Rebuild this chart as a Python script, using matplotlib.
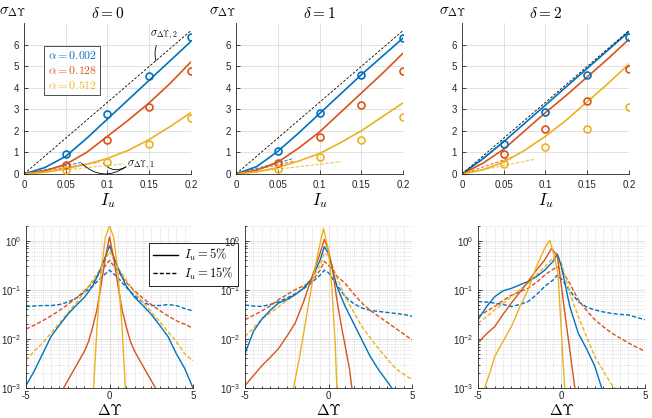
import numpy as np
import matplotlib
matplotlib.use("Agg")
import matplotlib.pyplot as plt
from matplotlib.font_manager import FontProperties
from matplotlib.lines import Line2D
from matplotlib.ticker import LogLocator, MultipleLocator, NullFormatter

plt.rcParams['font.family'] = ['Liberation Sans', 'DejaVu Sans']

# ---------------- data: top row (std of delta Upsilon vs I_u) ----------------
deltas = [0, 1, 2]
alpha_labels = ['0.002', '0.128', '0.512']
Iu_sim = [0.05, 0.1, 0.15, 0.2]
Iu_fit = [0, 0.025, 0.05, 0.075, 0.1, 0.125, 0.15, 0.175, 0.2]
sig2_x = [0, 0.2]
sig2_y = [0, 6.65]

# simulated points (circles), rows: alpha = 0.002, 0.128, 0.512
sim_d0 = [[0.93, 2.77, 4.56, 6.33], [0.40, 1.57, 3.11, 4.76], [0.20, 0.56, 1.38, 2.58]]
sim_d1 = [[1.07, 2.81, 4.59, 6.31], [0.51, 1.73, 3.19, 4.77], [0.23, 0.78, 1.60, 2.64]]
sim_d2 = [[1.37, 2.89, 4.60, 6.36], [0.93, 2.07, 3.40, 4.88], [0.48, 1.24, 2.10, 3.09]]

# model curves (solid lines)
fit_d0 = [[0, 0.30, 0.82, 1.65, 2.55, 3.45, 4.35, 5.25, 6.15],
          [0, 0.15, 0.45, 1.00, 1.75, 2.50, 3.30, 4.20, 5.20],
          [0, 0.08, 0.25, 0.45, 0.72, 1.10, 1.60, 2.20, 2.85]]
fit_d1 = [[0, 0.35, 1.05, 1.90, 2.80, 3.70, 4.60, 5.45, 6.30],
          [0, 0.18, 0.55, 1.20, 1.95, 2.85, 3.75, 4.65, 5.60],
          [0, 0.10, 0.30, 0.60, 0.95, 1.45, 2.00, 2.65, 3.30]]
fit_d2 = [[0, 0.70, 1.50, 2.35, 3.20, 4.05, 4.90, 5.75, 6.60],
          [0, 0.50, 1.15, 2.00, 2.85, 3.65, 4.50, 5.35, 6.25],
          [0, 0.20, 0.55, 1.10, 1.75, 2.50, 3.35, 4.20, 5.10]]

# small-I_u asymptotes sigma_1 (end points, start at origin)
sig1_end_x = [[0.07, 0.09, 0.12], [0.067, 0.07, 0.126], [0.05, 0.06, 0.087]]
sig1_end_y = [[0.55, 0.55, 0.47], [0.70, 0.60, 0.57], [1.50, 0.78, 0.68]]

# ---------------- data: bottom row (pdf of delta Upsilon, log10 values) ----------------
xg0 = [-5, -4.5, -4, -3.5, -3, -2.5, -2, -1.5, -1, -0.5, 0, 0.5, 1, 1.5, 2, 2.5, 3, 3.5, 4, 4.5, 5]
d0_blue5 = [-2.95, -2.65, -2.3, -1.95, -1.72, -1.5, -1.32, -1.15, -0.92, -0.55, -0.1,
            -0.55, -0.92, -1.15, -1.32, -1.5, -1.72, -1.95, -2.3, -2.6, -3.0]
d0_yel15 = [-2.43, -2.25, -2.08, -1.88, -1.68, -1.47, -1.27, -1.05, -0.8, -0.55, -0.22,
            -0.55, -0.8, -1.05, -1.25, -1.45, -1.65, -1.85, -2.05, -2.3, -2.45]
d0_red15 = [-1.8, -1.72, -1.63, -1.53, -1.42, -1.3, -1.17, -1.02, -0.85, -0.62, -0.4,
            -0.62, -0.85, -1.02, -1.17, -1.3, -1.42, -1.53, -1.63, -1.7, -1.78]
d0_blue15 = [-1.34, -1.33, -1.32, -1.32, -1.3, -1.25, -1.17, -1.05, -0.92, -0.75, -0.6,
             -0.75, -0.95, -1.12, -1.25, -1.32, -1.32, -1.3, -1.32, -1.38, -1.43]
d0_red5_x = [-2.75, -2.5, -2, -1.5, -1.25, -1, -0.75, -0.5, -0.25, 0, 0.25, 0.5, 0.75, 1, 1.25, 1.5, 2, 2.5, 2.75]
d0_red5 = [-3.0, -2.85, -2.55, -2.25, -2.05, -1.75, -1.4, -0.9, -0.35, 0.08,
           -0.35, -0.9, -1.4, -1.75, -2.05, -2.25, -2.55, -2.85, -3.0]
d0_yel5_x = [-0.95, -0.75, -0.5, -0.25, 0, 0.25, 0.5, 0.75, 0.95]
d0_yel5 = [-3.0, -1.75, -0.62, 0.07, 0.3, 0.07, -0.62, -1.75, -3.0]

xg1 = [-5, -4.5, -4, -3.5, -3, -2.5, -2, -1.5, -1, -0.5, -0.25, 0, 0.5, 1, 1.5, 2, 2.5, 3, 3.5, 4, 4.5, 5]
d1_blue5 = [-2.3, -1.85, -1.6, -1.42, -1.27, -1.2, -1.1, -0.97, -0.77, -0.39, -0.12, -0.26,
            -0.93, -1.34, -1.68, -2.02, -2.36, -2.63, -2.86, -3.1, np.nan, np.nan]
d1_yel15 = [-1.95, -1.78, -1.6, -1.47, -1.35, -1.22, -1.1, -0.95, -0.77, -0.5, -0.25, -0.3,
            -0.75, -1.14, -1.45, -1.75, -1.98, -2.2, -2.4, -2.6, -2.72, -2.83]
d1_red15 = [-1.61, -1.52, -1.43, -1.33, -1.2, -1.1, -1.0, -0.92, -0.83, -0.6, -0.42, -0.5,
            -0.72, -0.87, -1.08, -1.27, -1.42, -1.54, -1.66, -1.78, -1.9, -2.02]
d1_blue15 = [-1.31, -1.33, -1.34, -1.3, -1.24, -1.17, -1.08, -0.98, -0.85, -0.7, -0.6, -0.65,
             -0.9, -1.14, -1.28, -1.37, -1.42, -1.44, -1.46, -1.48, -1.5, -1.54]
d1_red5_x = [-5, -4.5, -4, -3.5, -3, -2.5, -2, -1.5, -1, -0.5, -0.25, 0, 0.25, 0.5, 0.75, 1, 1.25, 1.4]
d1_red5 = [-2.95, -2.75, -2.55, -2.38, -2.2, -1.95, -1.68, -1.25, -0.75, -0.25, 0.03, -0.2,
           -0.6, -1.2, -1.7, -2.15, -2.6, -3.0]
d1_yel5_x = [-2.1, -1.75, -1.5, -1.25, -1, -0.75, -0.5, -0.3, 0, 0.2, 0.4, 0.5]
d1_yel5 = [-3.0, -2.4, -1.9, -1.4, -0.9, -0.45, -0.05, 0.25, -0.2, -0.95, -2.1, -3.0]

xg2 = [-5, -4.5, -4, -3.5, -3, -2.5, -2, -1.5, -1, -0.5, -0.25, 0, 0.5, 1, 1.5, 2, 2.5, 3, 3.5, 4, 4.5, 5]
d2_blue5 = [-1.61, -1.35, -1.14, -1.02, -0.97, -0.9, -0.83, -0.73, -0.6, -0.42, -0.27, -0.53,
            -1.34, -1.88, -2.2, -2.56, -3.1, np.nan, np.nan, np.nan, np.nan, np.nan]
d2_yel15 = [-1.68, -1.55, -1.41, -1.28, -1.14, -1.0, -0.87, -0.7, -0.53, -0.35, -0.29, -0.45,
            -1.07, -1.54, -1.95, -2.36, -2.65, -2.93, -3.1, np.nan, np.nan, np.nan]
d2_red15 = [-1.54, -1.44, -1.34, -1.22, -1.11, -1.04, -0.97, -0.85, -0.7, -0.58, -0.53, -0.6,
            -0.87, -1.2, -1.42, -1.61, -1.75, -1.88, -1.98, -2.08, -2.17, -2.25]
d2_blue15 = [-1.24, -1.25, -1.27, -1.3, -1.34, -1.3, -1.24, -1.1, -0.93, -0.8, -0.7, -0.78,
             -1.02, -1.24, -1.35, -1.41, -1.45, -1.48, -1.5, -1.51, -1.56, -1.61]
d2_red5_x = [-5, -4.5, -4, -3.5, -3, -2.5, -2, -1.5, -1, -0.6, -0.25, 0, 0.25, 0.5, 0.8]
d2_red5 = [-2.08, -1.9, -1.75, -1.5, -1.27, -1.05, -0.83, -0.6, -0.39, -0.16, -0.3, -0.93,
           -1.6, -2.23, -3.0]
d2_yel5_x = [-4.6, -4.25, -4, -3.5, -3, -2.5, -2, -1.5, -1, -0.7, -0.4, -0.2, 0, 0.1, 0.2]
d2_yel5 = [-3.0, -2.65, -2.36, -2.05, -1.75, -1.35, -1.0, -0.53, -0.15, 0.01, -0.35, -0.7,
           -1.9, -2.5, -3.0]

# ---------------- style ----------------
blue, red, yellow = '#0072BD', '#D95319', '#EDB120'
colors = [blue, red, yellow]
axcol = '#262626'
gridcol = '#dcdcdc'


def style(ax, xpad=4):
    for s in ['top', 'right']:
        ax.spines[s].set_visible(False)
    for s in ['left', 'bottom']:
        ax.spines[s].set_color(axcol)
        ax.spines[s].set_linewidth(0.6)
    ax.tick_params(which='both', direction='in', colors=axcol, labelsize=7, width=0.6)
    ax.tick_params(which='major', length=3)
    ax.tick_params(which='minor', length=1.5)
    ax.tick_params(axis='x', pad=xpad)
    ax.set_axisbelow(True)


fig = plt.figure(figsize=(6.52, 4.18), dpi=100)

top_left = [0.0368, 0.362, 0.7086]
bot_left = [0.0399, 0.3758, 0.7331]
sims = [sim_d0, sim_d1, sim_d2]
fits = [fit_d0, fit_d1, fit_d2]
ylab_x = [-0.15, -0.16, -0.135]

for k in range(3):
    ax = fig.add_axes([top_left[k], 0.5837, 0.2561, 0.3612])
    style(ax)
    ax.grid(True, color=gridcol, lw=0.6)
    ax.plot(sig2_x, sig2_y, ls='--', color='k', lw=0.6, dashes=(3, 2), zorder=4)
    for i in range(3):
        ax.plot(Iu_fit, fits[k][i], color=colors[i], lw=1.2, zorder=3)
        ax.plot(Iu_sim, sims[k][i], 'o', mfc='none', mec=colors[i], ms=5, mew=1.2, zorder=5)
        ax.plot([0, sig1_end_x[k][i]], [0, sig1_end_y[k][i]], ls='--', dashes=(3, 1.5),
                color=colors[i], lw=0.8, alpha=0.8, zorder=3)
    ax.set_xlim(0, 0.2)
    ax.set_ylim(0, 7)
    ax.set_xticks([0, 0.05, 0.1, 0.15, 0.2])
    ax.set_xticklabels(['0', '0.05', '0.1', '0.15', '0.2'])
    ax.set_yticks(range(7))
    ax.text(0.5, 1.066, r'$\delta = %d$' % deltas[k], transform=ax.transAxes,
            ha='center', va='center', fontsize=11, math_fontfamily='cm')
    ax.text(ylab_x[k], 1.07, r'$\sigma_{\Delta\Upsilon}$', transform=ax.transAxes,
            ha='left', va='center', fontsize=11, math_fontfamily='cm')
    ax.text(0.5, -0.175, r'$I_u$', transform=ax.transAxes, ha='center', va='center',
            fontsize=12, math_fontfamily='cm')

    if k == 0:
        handles = [Line2D([], [], ls='none') for _ in range(3)]
        leg = ax.legend(handles, [r'$\alpha = %s$' % a for a in alpha_labels],
                        loc='upper left', bbox_to_anchor=(0.085, 0.885),
                        handlelength=0, handletextpad=0, labelcolor=colors,
                        prop=FontProperties(size=8.5, math_fontfamily='cm'),
                        frameon=True, fancybox=False, borderpad=0.3, labelspacing=0.25)
        leg.get_frame().set_edgecolor('k')
        leg.get_frame().set_linewidth(0.6)
        # annotations
        ax.annotate(r'$\sigma_{\Delta\Upsilon,2}$', xy=(0.158, 5.25), xytext=(0.151, 6.45),
                    ha='left', va='center', fontsize=8, math_fontfamily='cm',
                    arrowprops=dict(arrowstyle='-', lw=0.6, color='k',
                                    connectionstyle='arc3,rad=0.3', shrinkA=1, shrinkB=0))
        ax.text(0.123, 0.42, r'$\sigma_{\Delta\Upsilon,1}$', ha='left', va='center',
                fontsize=8, math_fontfamily='cm')
        for px in [0.069, 0.095]:
            ax.annotate('', xy=(px, 0.5), xytext=(0.122, 0.33),
                        arrowprops=dict(arrowstyle='-', lw=0.6, color='k',
                                        connectionstyle='arc3,rad=-0.4', shrinkA=0, shrinkB=0))

pdf_x = [
    [(xg0, d0_blue15, blue, '--'), (xg0, d0_red15, red, '--'), (xg0, d0_yel15, yellow, '--'),
     (xg0, d0_blue5, blue, '-'), (d0_red5_x, d0_red5, red, '-'), (d0_yel5_x, d0_yel5, yellow, '-')],
    [(xg1, d1_blue15, blue, '--'), (xg1, d1_red15, red, '--'), (xg1, d1_yel15, yellow, '--'),
     (xg1, d1_blue5, blue, '-'), (d1_red5_x, d1_red5, red, '-'), (d1_yel5_x, d1_yel5, yellow, '-')],
    [(xg2, d2_blue15, blue, '--'), (xg2, d2_red15, red, '--'), (xg2, d2_yel15, yellow, '--'),
     (xg2, d2_blue5, blue, '-'), (d2_red5_x, d2_red5, red, '-'), (d2_yel5_x, d2_yel5, yellow, '-')],
]

for k in range(3):
    ax = fig.add_axes([bot_left[k], 0.0718, 0.2561, 0.3876])
    style(ax, xpad=2)
    ax.set_yscale('log')
    for xs, ys, c, ls in pdf_x[k]:
        ax.plot(xs, 10 ** np.array(ys, dtype=float), color=c, ls=ls, lw=1.0,
                dashes=(3, 1.5) if ls == '--' else (None, None))
    ax.set_xlim(-5, 5)
    ax.set_ylim(1e-3, 2)
    ax.set_xticks([-5, 0, 5])
    ax.set_xticklabels(['-5', '0', '5'])
    ax.xaxis.set_minor_locator(MultipleLocator(0.5))
    ax.yaxis.set_major_locator(LogLocator(base=10, numticks=10))
    ax.yaxis.set_minor_locator(LogLocator(base=10, subs=np.arange(2, 10), numticks=10))
    ax.yaxis.set_minor_formatter(NullFormatter())
    ax.grid(True, which='major', color=gridcol, lw=0.6)
    ax.grid(True, which='minor', color='#c8c8c8', lw=0.5, ls=':')
    ax.text(0.5, -0.085, r'$\Delta\Upsilon$', transform=ax.transAxes, ha='center',
            va='top', fontsize=11, math_fontfamily='cm')
    if k == 0:
        h = [Line2D([], [], color='k', lw=1.0), Line2D([], [], color='k', lw=1.0, ls='--', dashes=(3, 1.5))]
        leg = ax.legend(h, [r'$I_u = 5\%$', r'$I_u = 15\%$'], loc='upper left',
                        bbox_to_anchor=(0.2193, 0.433), bbox_transform=fig.transFigure,
                        prop=FontProperties(size=9, math_fontfamily='cm'),
                        frameon=True, fancybox=False, framealpha=1, borderpad=0.3,
                        labelspacing=0.2, handlelength=2.0, handletextpad=0.5)
        leg.get_frame().set_edgecolor('k')
        leg.get_frame().set_linewidth(0.6)
        leg.set_zorder(10)

fig.savefig('out.png', dpi=100)
